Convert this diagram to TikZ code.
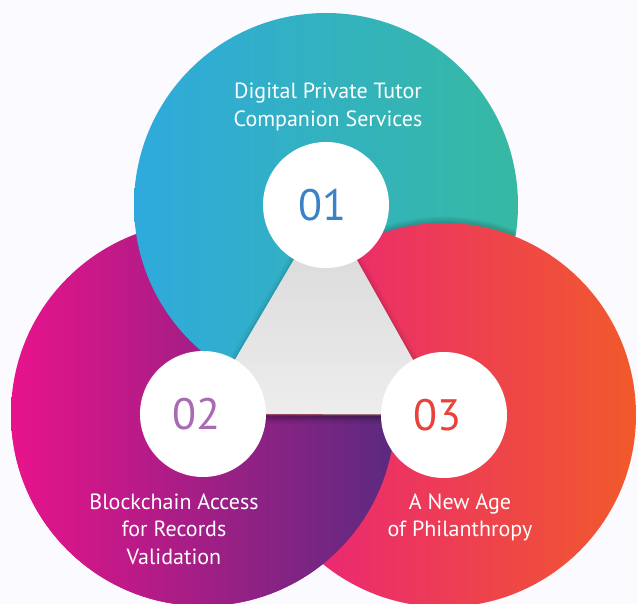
\documentclass[tikz,border=0pt]{standalone}
\usepackage{fontspec}
\setmainfont{PT Sans}
\usetikzlibrary{positioning}
\usetikzlibrary{fadings}

\definecolor{skyblue}{HTML}{2FAADD}
\definecolor{seateal}{HTML}{36B9A2}
\definecolor{hotpink}{HTML}{E8138B}
\definecolor{deepplum}{HTML}{5B2A80}
\definecolor{rosered}{HTML}{E91E80}
\definecolor{tangerine}{HTML}{F15A2B}
\definecolor{numblue}{HTML}{3A82C6}
\definecolor{numplum}{HTML}{A86AB2}
\definecolor{numred}{HTML}{E8423A}

\tikzset{
    disc/.style={circle, minimum size=384pt, inner sep=0pt},
    hole/.style={circle, fill=white, minimum size=126pt, inner sep=0pt},
    numtxt/.style={inner sep=0pt, font=\fontsize{44}{44}\selectfont},
    caption/.style={inner sep=0pt, text=white, align=center,
        font=\fontsize{22}{27.5}\selectfont},
}

\begin{document}
\begin{tikzpicture}[x=1pt, y=-1pt]
    \useasboundingbox (0,0) rectangle (638,604);
    \fill[white!98!blue] (0,0) rectangle (638,604);
    \coordinate (c1) at (326,205);
    \coordinate (c2) at (203,414);
    \coordinate (c3) at (444,415);
    %% big discs
    \node[disc, left color=hotpink, right color=deepplum] (d2) at (c2) {};
    \node[disc, left color=skyblue, right color=seateal] (d1) at (c1) {};
    % soft shadow of the red disc on the blue one
    \begin{scope}
        \clip (c1) circle (191.5pt);
        \foreach \dy in {2,4,6} {
            \fill[black, opacity=0.06] ([yshift=\dy pt]c3) circle (192pt);
        }
    \end{scope}
    \node[disc, left color=rosered, right color=tangerine] (d3) at (c3) {};
    % purple disc again over the red one, below the triangle
    \begin{scope}
        \clip (0,416) rectangle (638,604);
        \node[disc, left color=hotpink, right color=deepplum] (d2b) at (c2) {};
    \end{scope}
    %% middle triangle
    \draw[black, opacity=0.05, line width=10pt, line join=round] (c1) -- (c2) -- (c3) -- cycle;
    \draw[black, opacity=0.07, line width=4pt, line join=round] (c1) -- (c2) -- (c3) -- cycle;
    \shade[top color=black!16, bottom color=black!7] (c1) -- (c2) -- (c3) -- cycle;
    \fill[black, opacity=0.3, path fading=south] (c2) rectangle ([yshift=-9pt]c3);
    %% white holes
    \node[hole] (w1) at (c1) {};
    \node[hole] (w2) at (c2) {};
    \node[hole] (w3) at (c3) {};
    \node[numtxt, text=numblue] (n1) at ([xshift=-4pt]w1.center) {01};
    \node[numtxt, text=numplum] (n2) at ([xshift=-7pt]w2.center) {02};
    \node[numtxt, text=numred] (n3) at ([xshift=-7pt]w3.center) {03};
    %% captions
    \node[caption, above=11pt of w1, xshift=2pt] (t1) {Digital Private Tutor\\Companion Services};
    \node[caption, below=16pt of w2, xshift=-29pt] (t2) {Blockchain Access\\for Records\\Validation};
    \node[caption, below=15pt of w3, xshift=16pt] (t3) {A New Age\\of Philanthropy};
\end{tikzpicture}
\end{document}
